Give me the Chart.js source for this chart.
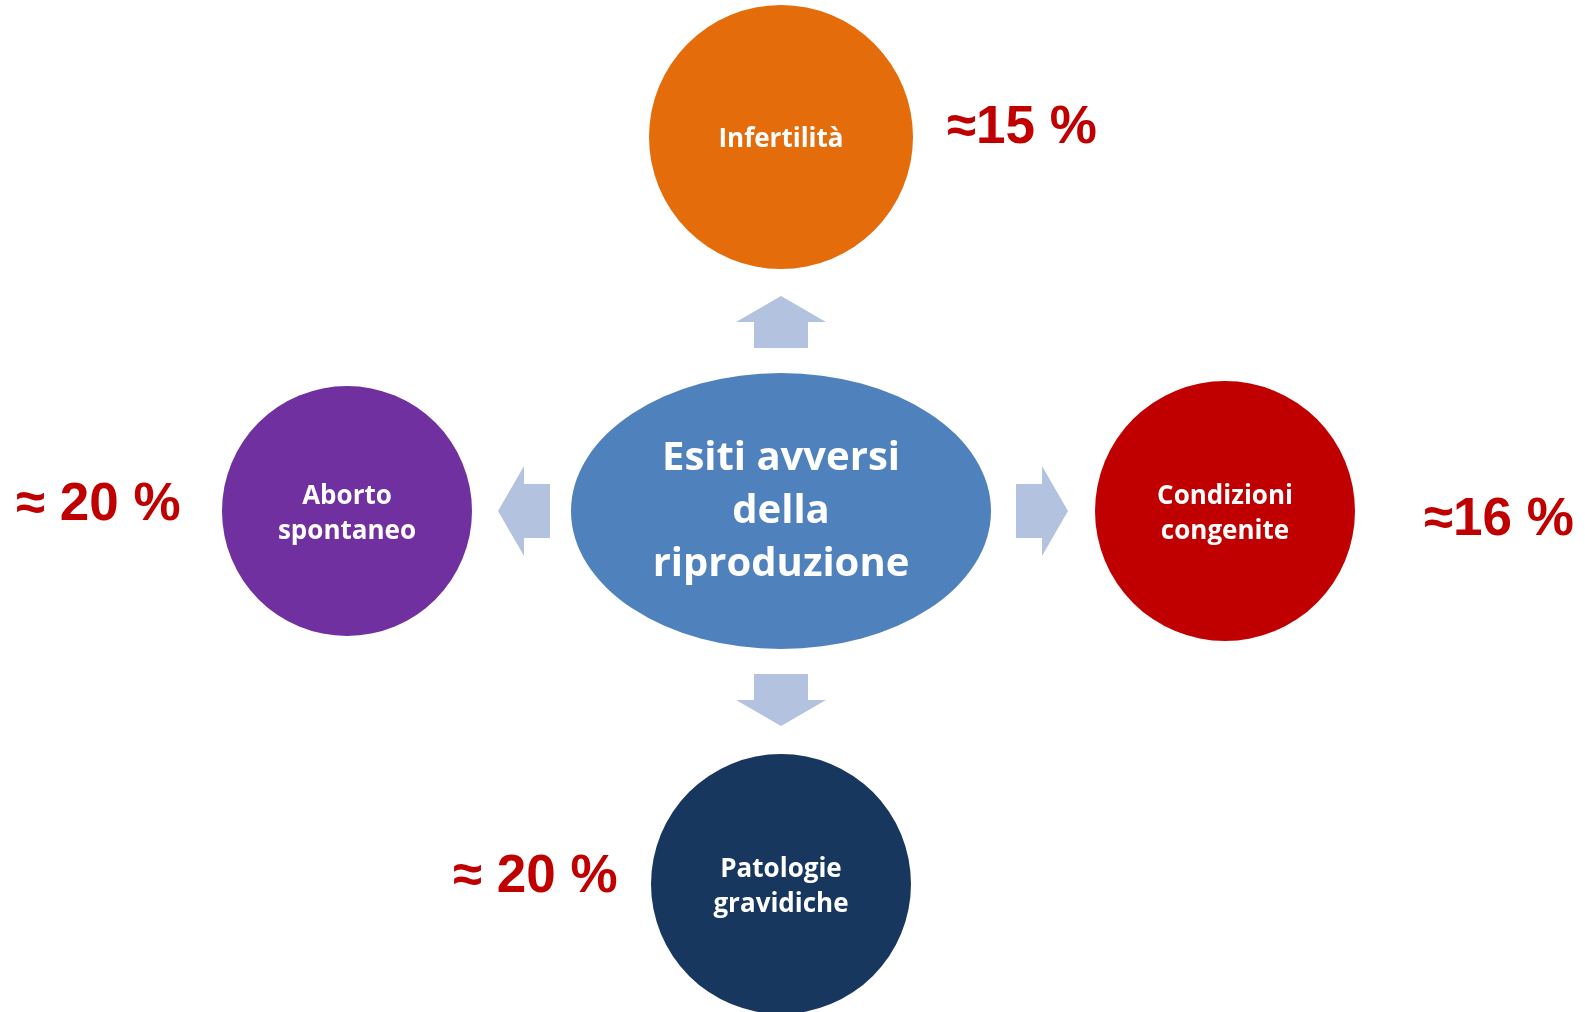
<!DOCTYPE html>
<html lang="it">
<head>
    <meta charset="UTF-8">
    <title>Esiti avversi della riproduzione</title>
    <script src="https://cdn.jsdelivr.net/npm/chart.js"></script>
    <style>
        html, body {
            margin: 0;
            padding: 0;
            background: #ffffff;
            overflow: hidden;
        }
        .chart-container {
            position: relative;
            width: 1585px;
            height: 1012px;
        }
    </style>
</head>
<body>
    <div class="chart-container">
        <canvas id="diagram"></canvas>
    </div>

    <script>
        // dati
        const centerLines = ['Esiti avversi', 'della', 'riproduzione'];
        const outcomes = ['Infertilità', 'Aborto spontaneo', 'Condizioni congenite', 'Patologie gravidiche'];
        const outcomeLines = [['Infertilità'], ['Aborto', 'spontaneo'], ['Condizioni', 'congenite'], ['Patologie', 'gravidiche']];
        const prevalence = [15, 20, 16, 20];
        const prevalenceLabels = ['≈15 %', '≈ 20 %', '≈16 %', '≈ 20 %'];

        // layout (unità della griglia 1585 x 1012)
        const W = 1585, H = 1012;
        const hub = { x: 781, y: 511, rx: 210, ry: 138, color: '#4F81BD' };
        const nodePos = [
            { x: 781, y: 137, r: 132, color: '#E46C0A' },
            { x: 347, y: 511, r: 125, color: '#7030A0' },
            { x: 1225, y: 511, r: 130, color: '#C00000' },
            { x: 781, y: 884, r: 130, color: '#17375E' }
        ];
        // posizione delle etichette percentuali (sinistra, linea di base)
        const pctPos = [
            { x: 947, y: 143 },
            { x: 16, y: 520 },
            { x: 1424, y: 535 },
            { x: 453, y: 892 }
        ];
        // frecce: punta, direzione
        const arrows = [
            { x: 781, y: 296, dir: 'up' },
            { x: 498, y: 511, dir: 'left' },
            { x: 1068, y: 511, dir: 'right' },
            { x: 781, y: 726, dir: 'down' }
        ];
        const arrowColor = '#B3C3DF';

        const diagramPlugin = {
            id: 'diagram',
            beforeDatasetsDraw(chart) {
                const ctx = chart.ctx;
                const xs = chart.scales.x, ys = chart.scales.y;
                const px = v => xs.getPixelForValue(v);
                const py = v => ys.getPixelForValue(v);

                ctx.save();
                // ellisse centrale
                ctx.fillStyle = hub.color;
                ctx.beginPath();
                ctx.ellipse(px(hub.x), py(hub.y), px(hub.x + hub.rx) - px(hub.x), Math.abs(py(hub.y + hub.ry) - py(hub.y)), 0, 0, Math.PI * 2);
                ctx.fill();

                // frecce
                ctx.fillStyle = arrowColor;
                arrows.forEach(a => {
                    const len = 52, head = 26, hw = 45, sw = 27;
                    // forma definita verso l'alto, poi ruotata
                    const pts = [
                        [0, 0], [hw, head], [sw, head], [sw, len], [-sw, len], [-sw, head], [-hw, head]
                    ];
                    const rot = { up: 0, down: Math.PI, left: -Math.PI / 2, right: Math.PI / 2 }[a.dir];
                    ctx.save();
                    ctx.translate(px(a.x), py(a.y));
                    ctx.rotate(rot);
                    ctx.beginPath();
                    pts.forEach((p, i) => i ? ctx.lineTo(p[0], p[1]) : ctx.moveTo(p[0], p[1]));
                    ctx.closePath();
                    ctx.fill();
                    ctx.restore();
                });
                ctx.restore();
            },
            afterDatasetsDraw(chart) {
                const ctx = chart.ctx;
                const xs = chart.scales.x, ys = chart.scales.y;
                const px = v => xs.getPixelForValue(v);
                const py = v => ys.getPixelForValue(v);

                ctx.save();
                ctx.fillStyle = '#ffffff';
                ctx.textAlign = 'center';
                ctx.textBaseline = 'alphabetic';

                // testo centrale
                ctx.font = 'bold 40px "Open Sans"';
                const hubBase = [470, 523, 576];
                centerLines.forEach((t, i) => ctx.fillText(t, px(hub.x), py(hubBase[i])));

                // testo nei cerchi
                ctx.font = 'bold 26px "Open Sans"';
                outcomeLines.forEach((lines, i) => {
                    const n = nodePos[i];
                    const lh = 35;
                    const first = n.y + 10 - (lines.length - 1) * lh / 2;
                    lines.forEach((t, j) => ctx.fillText(t, px(n.x), py(first + j * lh)));
                });

                // percentuali
                ctx.fillStyle = '#C00000';
                ctx.textAlign = 'left';
                ctx.font = 'bold 53px "Liberation Sans", Arial, sans-serif';
                prevalenceLabels.forEach((t, i) => {
                    ctx.fillText(t, px(pctPos[i].x), py(pctPos[i].y));
                });
                ctx.restore();
            }
        };

        document.addEventListener('DOMContentLoaded', function() {
            if (typeof Chart === 'undefined') {
                document.body.innerHTML += '<p style="color: red;">Chart.js not loaded!</p>';
                return;
            }
            const ctx = document.getElementById('diagram');
            new Chart(ctx, {
                type: 'bubble',
                data: {
                    labels: outcomes,
                    datasets: [{
                        label: 'Esiti',
                        data: nodePos.map((n, i) => ({ x: n.x, y: n.y, r: n.r, v: prevalence[i] })),
                        backgroundColor: nodePos.map(n => n.color),
                        borderWidth: 0,
                        hoverRadius: 0,
                        clip: false
                    }]
                },
                options: {
                    responsive: true,
                    maintainAspectRatio: false,
                    animation: false,
                    events: [],
                    layout: { padding: 0, autoPadding: false },
                    plugins: {
                        legend: { display: false },
                        tooltip: { enabled: false }
                    },
                    scales: {
                        x: { type: 'linear', min: 0, max: W, display: false },
                        y: { type: 'linear', min: 0, max: H, reverse: true, display: false }
                    }
                },
                plugins: [diagramPlugin]
            });
        });
    </script>
</body>
</html>
